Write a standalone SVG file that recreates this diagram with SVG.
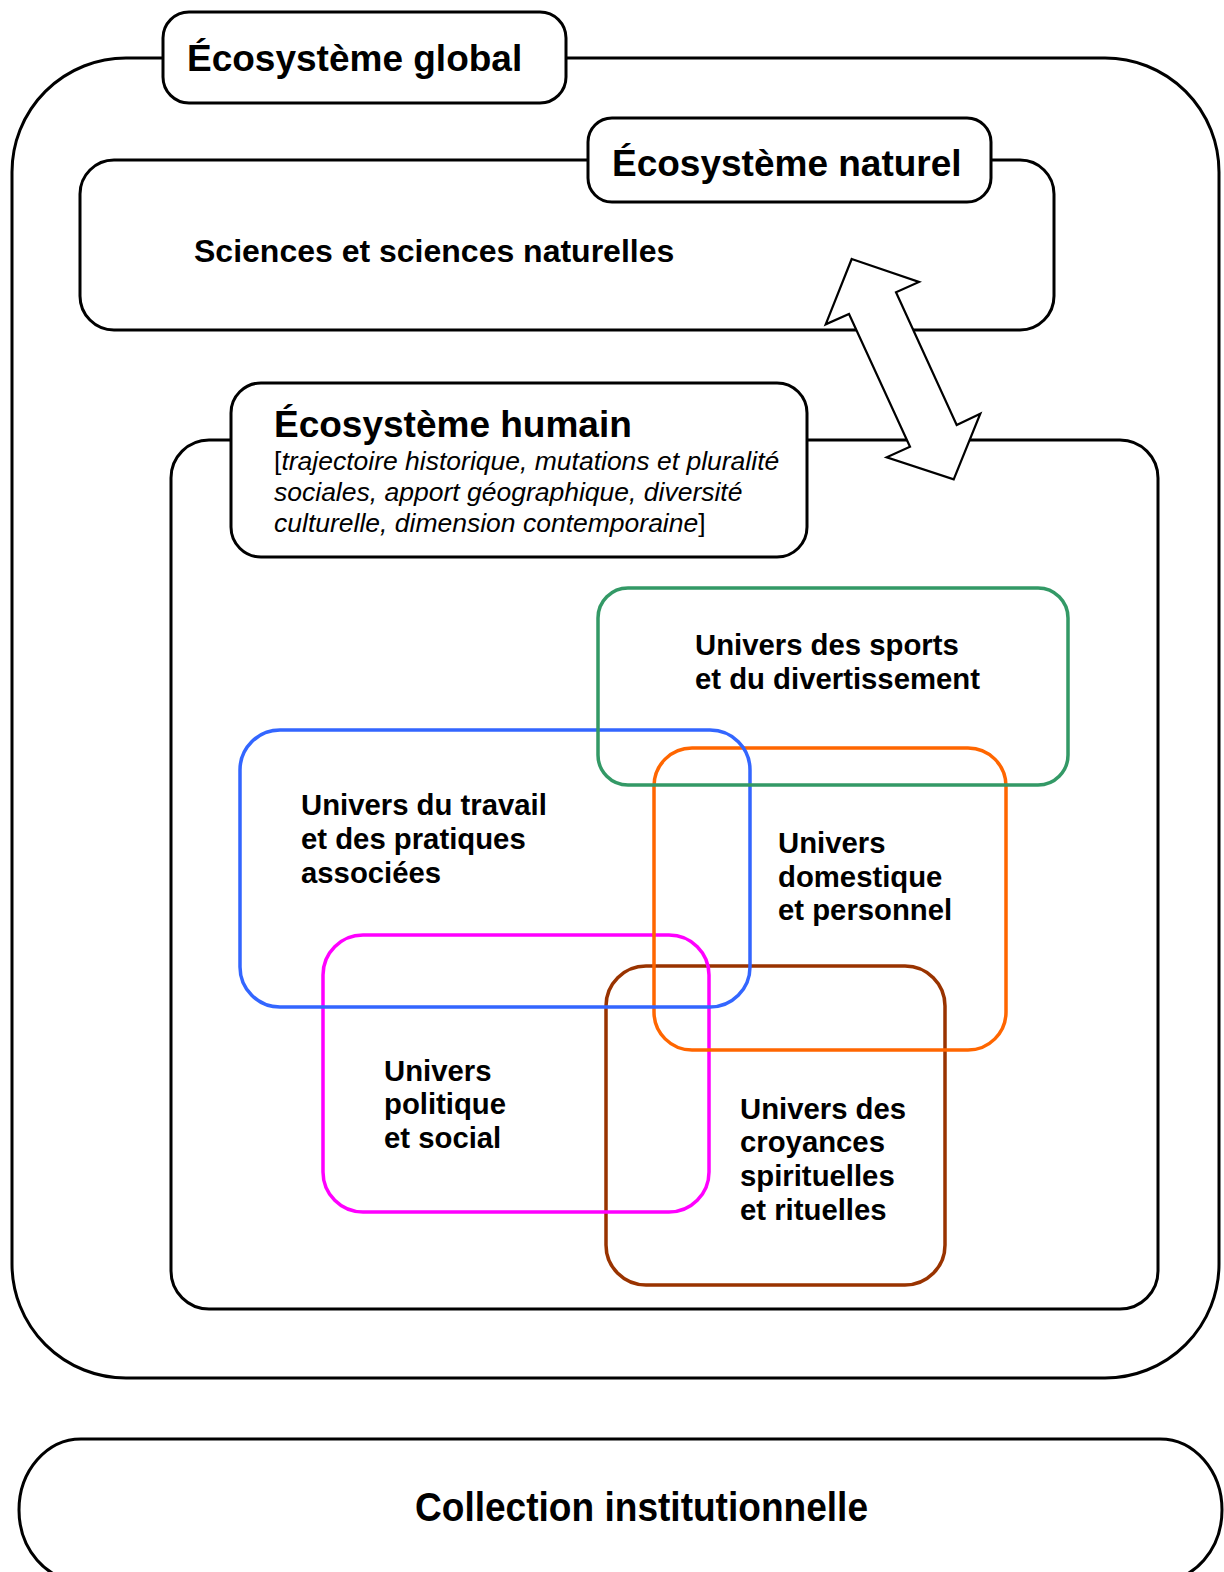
<svg xmlns="http://www.w3.org/2000/svg" width="1224" height="1572" viewBox="0 0 1224 1572">
<style>
.box{fill:none;stroke:#000;stroke-width:3}
.lbl{fill:#fff;stroke:#000;stroke-width:3}
.title{font-family:"Liberation Sans",Arial,sans-serif;font-weight:bold;font-size:37px;fill:#000}
.t{font-family:"Liberation Sans",Arial,sans-serif;font-weight:bold;font-size:29.3px;fill:#000}
.it{font-family:"Liberation Sans",Arial,sans-serif;font-size:26.5px;fill:#000}
.u{fill:none;stroke-width:3.5}
</style>
<rect width="1224" height="1572" fill="#fff"/>
<g id="global">
<rect class="box" x="12" y="58" width="1207" height="1320" rx="114" ry="114"/>
<rect class="lbl" x="163" y="12" width="403" height="91" rx="26" ry="26"/>
<text class="title" x="187" y="71">Écosystème global</text>
</g>
<g id="naturel">
<rect class="box" x="80" y="160" width="974" height="170" rx="34" ry="34"/>
<rect class="lbl" x="588" y="118" width="403" height="84" rx="24" ry="24"/>
<text class="title" x="612" y="176">Écosystème naturel</text>
<text class="t" x="194" y="262" style="font-size:32px">Sciences et sciences naturelles</text>
</g>
<g id="humain">
<rect class="box" x="171" y="440" width="987" height="869" rx="38" ry="38"/>
<rect class="lbl" x="231" y="383" width="576" height="174" rx="30" ry="30"/>
<text class="title" x="274" y="437">Écosystème humain</text>
<text class="it" x="274" y="470">[<tspan font-style="italic">trajectoire historique, mutations et pluralité</tspan></text>
<text class="it" x="274" y="501" font-style="italic">sociales, apport géographique, diversité</text>
<text class="it" x="274" y="532"><tspan font-style="italic">culturelle, dimension contemporaine</tspan>]</text>
</g>
<g id="connectors">
<path d="M851.7,259 L919,282 L896,292.3 L956.7,425 L980.3,413.7 L953.7,479.3 L886.7,457.3 L910,446.7 L849,314 L825.7,324.3 Z" fill="#fff" stroke="#000" stroke-width="2.2" stroke-linejoin="miter"/>
</g>
<g id="croyances">
<rect class="u" stroke="#993300" x="606" y="966" width="339" height="319" rx="40" ry="40"/>
</g>
<g id="politique">
<rect class="u" stroke="#ff00ff" x="323" y="935" width="386" height="277" rx="40" ry="40"/>
</g>
<g id="domestique">
<rect class="u" stroke="#ff6600" x="654" y="748" width="352" height="302" rx="38" ry="38"/>
</g>
<g id="travail">
<rect class="u" stroke="#3366ff" x="240" y="730" width="510" height="277" rx="40" ry="40"/>
</g>
<g id="sports">
<rect class="u" stroke="#339966" x="598" y="588" width="470" height="197" rx="30" ry="30"/>
</g>
<g id="labels">
<text class="t" x="695" y="655">Univers des sports</text>
<text class="t" x="695" y="689">et du divertissement</text>
<text class="t" x="301" y="815">Univers du travail</text>
<text class="t" x="301" y="849">et des pratiques</text>
<text class="t" x="301" y="883">associées</text>
<text class="t" x="778" y="853">Univers</text>
<text class="t" x="778" y="887">domestique</text>
<text class="t" x="778" y="920">et personnel</text>
<text class="t" x="384" y="1081">Univers</text>
<text class="t" x="384" y="1114">politique</text>
<text class="t" x="384" y="1148">et social</text>
<text class="t" x="740" y="1119">Univers des</text>
<text class="t" x="740" y="1152">croyances</text>
<text class="t" x="740" y="1186">spirituelles</text>
<text class="t" x="740" y="1220">et rituelles</text>
</g>
<g id="collection">
<rect class="box" x="19" y="1439" width="1203" height="142" rx="62" ry="71"/>
<text class="title" x="415" y="1521" style="font-size:40px" textLength="453" lengthAdjust="spacingAndGlyphs">Collection institutionnelle</text>
</g>
</svg>
